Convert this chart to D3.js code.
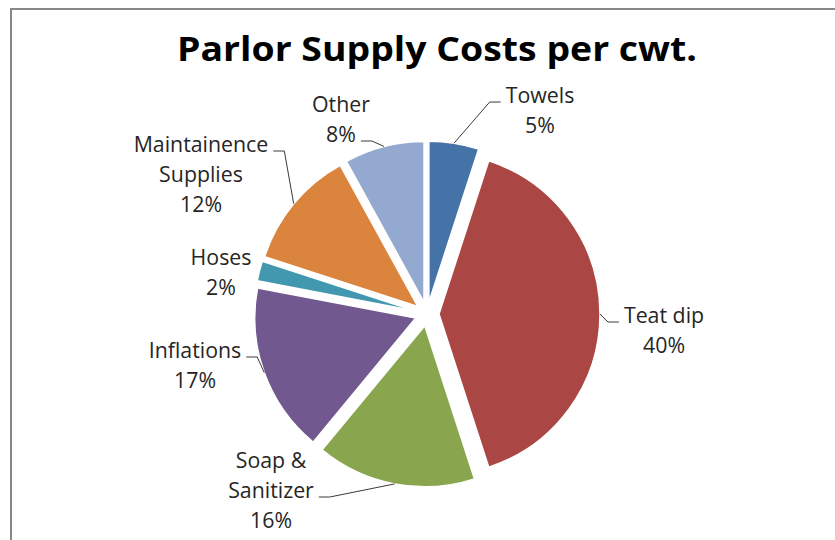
<!DOCTYPE html>
<html>
<head>
<meta charset="utf-8">
<script src="https://cdn.jsdelivr.net/npm/d3@7"></script>
<style>
  html, body { margin: 0; padding: 0; background: #fff; }
  svg { display: block; }
</style>
</head>
<body>
<script>
// ---- Data ----
const categories = ["Towels", "Teat dip", "Soap & Sanitizer", "Inflations", "Hoses", "Maintainence Supplies", "Other"];
const values = [5, 40, 16, 17, 2, 12, 8];
const labelLines = [["Towels"], ["Teat dip"], ["Soap &", "Sanitizer"], ["Inflations"], ["Hoses"], ["Maintainence", "Supplies"], ["Other"]];
const colors = ["#4572A7", "#AA4643", "#89A54E", "#71588F", "#4198AF", "#DB843D", "#93A9CF"];
const title = "Parlor Supply Costs per cwt.";

// ---- Layout (label placement, relative to pie centre) ----
const labelDx = [113, 237, -156, -232, -206, -226, -86];
const labelDy = [-211, 9, 154, 44, -49, -162, -202];
const leaderLine = [0, 0, 1, 0, -1, 0, 1];

const W = 835, H = 540;
const cx = 427, cy = 314, R = 161, explode = 12;
const lineGap = 30;
const labelFont = "'Open Sans', 'Liberation Sans', sans-serif";
const sx = 0.97;

const svg = d3.select("body").append("svg").attr("width", W).attr("height", H);

// chart border
svg.append("rect").attr("x", 11).attr("y", 9).attr("width", 900).attr("height", 700)
  .attr("fill", "none").attr("stroke", "#878787").attr("stroke-width", 2);

// title
svg.append("text")
  .attr("x", 437).attr("y", 61)
  .attr("text-anchor", "middle")
  .attr("font-family", labelFont)
  .attr("font-weight", "bold")
  .attr("font-size", 34)
  .attr("fill", "#000")
  .attr("textLength", 520)
  .attr("lengthAdjust", "spacingAndGlyphs")
  .text(title);

const data = categories.map((c, i) => ({ name: c, value: values[i], color: colors[i], i }));
const total = d3.sum(values);
const pie = d3.pie().sort(null).value(d => d.value);
const arcs = pie(data);
const arc = d3.arc().innerRadius(0).outerRadius(R);
const pct = d3.format(".0%");

const g = svg.append("g").attr("transform", `translate(${cx},${cy})`);

arcs.forEach(a => {
  const m = (a.startAngle + a.endAngle) / 2;
  a.ox = explode * Math.sin(m);
  a.oy = -explode * Math.cos(m);
  a.mid = m;
});

g.selectAll("path.slice").data(arcs).join("path")
  .attr("class", "slice")
  .attr("transform", d => `translate(${d.ox},${d.oy})`)
  .attr("d", arc)
  .attr("fill", d => d.data.color)
  .attr("stroke", "#fff")
  .attr("stroke-width", 1.5);

// labels
const lg = svg.append("g");
arcs.forEach((a, i) => {
  const lines = labelLines[i].concat([pct(a.data.value / total)]);
  const lx = cx + labelDx[i], ly = cy + labelDy[i];
  const grp = lg.append("g").attr("transform", `translate(${lx},${ly}) scale(${sx},1)`);
  const widths = [];
  lines.forEach((t, k) => {
    const tx = grp.append("text")
      .attr("x", 0).attr("y", k * lineGap)
      .attr("text-anchor", "middle")
      .attr("font-family", labelFont)
      .attr("font-size", 22)
      .attr("fill", "#262626")
      .text(t);
    widths.push(tx.node().getComputedTextLength() * sx);
  });
  const k = leaderLine[i];
  if (k >= 0) {
    const sxp = cx + a.ox + R * Math.sin(a.mid);
    const syp = cy + a.oy - R * Math.cos(a.mid);
    const by = ly + k * lineGap - 1;
    const right = labelDx[i] > 0;
    const ex = right ? lx - widths[k] / 2 - 5 : lx + widths[k] / 2 + 5;
    const elx = right ? ex - 11 : ex + 11;
    lg.append("polyline")
      .attr("points", `${sxp},${syp} ${elx},${by} ${ex},${by}`)
      .attr("fill", "none")
      .attr("stroke", "#3a3a3a")
      .attr("stroke-width", 1);
  }
});
</script>
</body>
</html>
